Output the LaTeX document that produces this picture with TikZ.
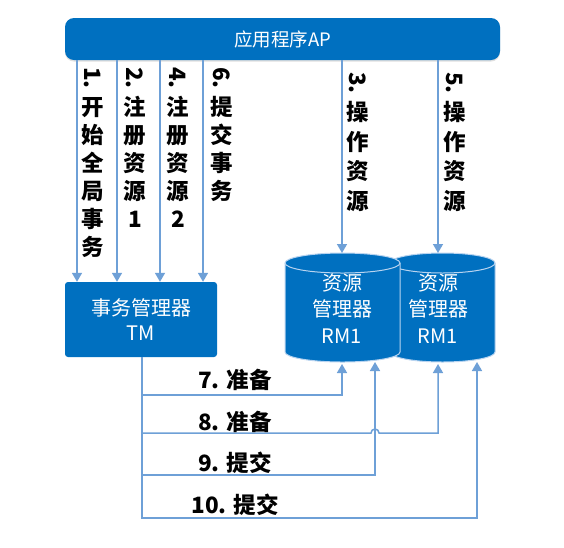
\documentclass[tikz,border=0pt]{standalone}
\usepackage{fontspec}
\setmainfont{Noto Sans CJK SC}
\usetikzlibrary{arrows.meta,shadows}
\definecolor{mainblue}{RGB}{0,112,192}
\definecolor{linkblue}{RGB}{110,160,215}
\definecolor{cylline}{RGB}{185,212,240}
\newcommand{\rnum}[1]{\rotatebox[origin=c]{-90}{#1}}
\begin{document}
\begin{tikzpicture}[x=1pt,y=1pt,yscale=-1,
  apbox/.style={fill=mainblue, rounded corners=9pt, minimum width=435pt, minimum height=42pt, inner sep=0pt, text=white, font=\fontsize{18.5}{22}\selectfont},
  tmbox/.style={fill=mainblue, rounded corners=3pt, minimum width=152pt, minimum height=75pt, text=white, align=center, font=\fontsize{20}{25}\selectfont, inner sep=0pt},
  cyltext/.style={text=white, align=center, font=\fontsize{20}{26.5}\selectfont, inner sep=0pt},
  link/.style={draw=linkblue, line width=1.5pt},
  arr/.style={link, -{Triangle[width=10pt,length=9pt]}},
  vlab/.style={align=center, inner sep=0pt, anchor=north, font=\bfseries\fontsize{22.5}{28}\selectfont},
  vlabr/.style={vlab, font=\bfseries\fontsize{22.5}{29.5}\selectfont},
  hlab/.style={inner sep=0pt, font=\bfseries\fontsize{22.5}{25}\selectfont},
  cylbody/.style={fill=mainblue, draw=cylline, line width=1pt}
]
\useasboundingbox (0,0) rectangle (564,547);
\fill[white] (0,0) rectangle (564,547);

% application box
\node[apbox, drop shadow={shadow xshift=0pt, shadow yshift=-1.5pt, opacity=0.25, fill=gray}] (ap) at (282.5,39) {应用程序AP};

% transaction manager
\node[tmbox] (tm) at (141,319.5) {事务管理器\\TM};

% resource manager cylinders (second drawn first, behind)
\path[cylbody] (390,263) -- (390,352) arc[start angle=180,end angle=0,x radius=52.5,y radius=10] -- (495,263) arc[start angle=0,end angle=-180,x radius=52.5,y radius=10] -- cycle;
\draw[draw=cylline, line width=1pt] (390,263) arc[start angle=180,end angle=0,x radius=52.5,y radius=10];
\path[cylbody] (285,263) -- (285,352) arc[start angle=180,end angle=0,x radius=57.5,y radius=10] -- (400,263) arc[start angle=0,end angle=-180,x radius=57.5,y radius=10] -- cycle;
\draw[draw=cylline, line width=1pt] (285,263) arc[start angle=180,end angle=0,x radius=57.5,y radius=10];
\node[cyltext] (rma) at (342,308.5) {资源\\管理器\\RM1};
\node[cyltext] (rmb) at (438,308.5) {资源\\管理器\\RM1};

% connector end points on the cylinders
\coordinate (rmaT) at (342,253);
\coordinate (rmbT) at (438,253);
\coordinate (rmaB1) at (342,364);
\coordinate (rmaB2) at (375,362);
\coordinate (rmbB1) at (438,364);
\coordinate (rmbB2) at (477,362);
\coordinate (tmb) at (142,357);
\coordinate (h7) at (342,395);
\coordinate (h8a) at (371,433);
\coordinate (h8b) at (438,433);
\coordinate (h9) at (375,475);
\coordinate (h10) at (477,518);

% AP -> TM arrows
\draw[arr] (77,0 |- ap.south) -- (77,0 |- tm.north);
\draw[arr] (117,0 |- ap.south) -- (117,0 |- tm.north);
\draw[arr] (160,0 |- ap.south) -- (160,0 |- tm.north);
\draw[arr] (203,0 |- ap.south) -- (203,0 |- tm.north);
% AP -> RM arrows
\draw[arr] (rmaT |- ap.south) -- (rmaT);
\draw[arr] (rmbT |- ap.south) -- (rmbT);

% TM -> RM arrows
\draw[arr] (tmb) |- (h7) -- (rmaB1);
\draw[arr] (tmb) |- (h8a) arc[start angle=180,end angle=360,radius=4] -- (h8b) -- (rmbB1);
\draw[arr] (tmb) |- (h9) -- (rmaB2);
\draw[arr] (tmb) |- (h10) -- (rmbB2);

% vertical labels
\node[vlab] (l1) at (93,67) {\rnum{1.}\\[1pt]开\\始\\全\\局\\事\\务};
\node[vlab] (l2) at (135,67) {\rnum{2.}\\[1pt]注\\册\\资\\源\\1};
\node[vlab] (l4) at (178,67) {\rnum{4.}\\[1pt]注\\册\\资\\源\\2};
\node[vlab] (l6) at (222,67) {\rnum{6.}\\[1pt]提\\交\\事\\务};
\node[vlabr] (l3) at (358,72) {\rnum{3.}\\操\\作\\资\\源};
\node[vlabr] (l5) at (455,72) {\rnum{5.}\\操\\作\\资\\源};

% horizontal labels
\node[hlab] (t7) at (235,380) {7. 准备};
\node[hlab] (t8) at (235,422) {8. 准备};
\node[hlab] (t9) at (235,463) {9. 提交};
\node[hlab] (t10) at (235,505) {10. 提交};
\end{tikzpicture}
\end{document}
